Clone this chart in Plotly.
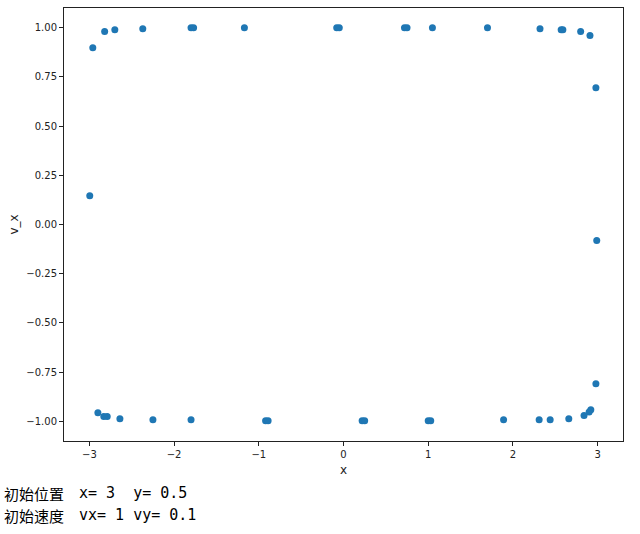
import plotly.graph_objects as go

# positions (x) and x-velocities (v_x)
x_vals = [-2.996, -2.96, -2.82, -2.70, -2.37, -1.80, -1.77, -1.17, -0.08, -0.05,
          0.72, 0.75, 1.05, 1.70, 2.32, 2.57, 2.59, 2.80, 2.91, 2.98, 2.99,
          2.98, 2.92, 2.90, 2.84, 2.66, 2.44, 2.31, 1.89, 1.00, 1.03,
          0.22, 0.25, -0.92, -0.89, -1.80, -2.25, -2.64, -2.79, -2.83, -2.90]
vx_vals = [0.146, 0.898, 0.98, 0.99, 0.995, 1.0, 1.0, 1.0, 1.0, 1.0,
           1.0, 1.0, 1.0, 1.0, 0.995, 0.99, 0.99, 0.98, 0.96, 0.695, -0.081,
           -0.809, -0.941, -0.953, -0.970, -0.987, -0.992, -0.992, -0.992, -0.997, -0.997,
           -0.997, -0.997, -0.997, -0.997, -0.992, -0.992, -0.987, -0.975, -0.975, -0.956]

x_ticks = [-3, -2, -1, 0, 1, 2, 3]
y_ticks = [-1.00, -0.75, -0.50, -0.25, 0.00, 0.25, 0.50, 0.75, 1.00]
y_tick_text = ["\u22121.00", "\u22120.75", "\u22120.50", "\u22120.25", "0.00", "0.25", "0.50", "0.75", "1.00"]
x_tick_text = ["\u22123", "\u22122", "\u22121", "0", "1", "2", "3"]

cjk_labels = ["初始位置", "初始速度"]
value_labels = ["x= 3  y= 0.5", "vx= 1 vy= 0.1"]

W, H = 640, 534
L, R, T, B = 64, 17, 8, 93
pw, ph = W - L - R, H - T - B

fig = go.Figure(go.Scatter(
    x=x_vals, y=vx_vals, mode="markers",
    marker=dict(color="#1f77b4", size=7, line=dict(width=0)),
))

axis_common = dict(
    showgrid=False, zeroline=False, showline=True, linecolor="#222222", linewidth=1,
    mirror=True, ticks="outside", ticklen=4, tickwidth=1, tickcolor="#222222",
    tickfont=dict(family="DejaVu Sans", size=10, color="#222222"),
    automargin=False,
)

fig.update_layout(
    width=W, height=H,
    margin=dict(l=L, r=R, t=T, b=B, pad=0),
    plot_bgcolor="white", paper_bgcolor="white",
    showlegend=False,
    xaxis=dict(range=[-3.3, 3.3], tickvals=x_ticks, ticktext=x_tick_text,
               title=dict(text="x", font=dict(family="DejaVu Sans", size=12, color="#222222"), standoff=6),
               **axis_common),
    yaxis=dict(range=[-1.1, 1.1], tickvals=y_ticks, ticktext=y_tick_text,
               title=dict(text="v_x", font=dict(family="DejaVu Sans", size=12, color="#222222"), standoff=5),
               **axis_common),
)

line_y = [493, 515]
for i in range(2):
    ypaper = (H - B - line_y[i]) / ph
    fig.add_annotation(xref="paper", yref="paper", x=(2 - L) / pw, y=ypaper,
                       xanchor="left", yanchor="middle", showarrow=False,
                       text=cjk_labels[i],
                       font=dict(family="Noto Sans CJK SC", size=15, color="black"))
    fig.add_annotation(xref="paper", yref="paper", x=(77 - L) / pw, y=ypaper,
                       xanchor="left", yanchor="middle", showarrow=False,
                       text=value_labels[i].replace(" ", "&nbsp;"),
                       font=dict(family="DejaVu Sans Mono", size=15, color="black"))

fig.write_html("out.html", config={"displayModeBar": False},
               post_script="document.body.style.margin='0';")
